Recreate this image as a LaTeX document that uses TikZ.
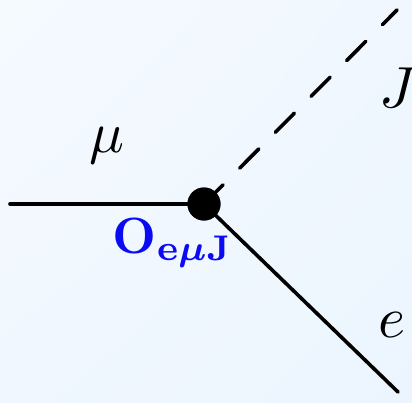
\documentclass[tikz,border=0pt]{standalone}
\usepackage{bm}
\usetikzlibrary{shadings}
\definecolor{bgA}{RGB}{245,250,255}
\definecolor{bgB}{RGB}{240,247,254}
\definecolor{bgC}{RGB}{236,245,254}
\definecolor{lblblue}{RGB}{10,10,245}
\tikzset{
  leg/.style={line width=3.6pt, line cap=round},
  scalar/.style={leg, dash pattern=on 27pt off 23.6pt},
  vtx/.style={circle, fill=black, inner sep=0pt, minimum size=33pt},
  lbl/.style={inner sep=0pt},
}
\newcommand{\bigtxt}[2]{\scalebox{#1}{#2}}
\begin{document}
\begin{tikzpicture}[x=1pt,y=-1pt]
\shade[upper left=bgA, upper right=bgB, lower left=bgB, lower right=bgC] (0,0) rectangle (412,402);
\useasboundingbox (0,0) rectangle (412,402);
\coordinate (mu) at (10,204);
\coordinate (J) at (397,10);
\coordinate (e) at (398,392);
\node[vtx] (v) at (204,204) {};
\draw[leg] (mu) -- (v.center);
\draw[leg] (v.center) -- (e);
\draw[scalar] (v.center) -- (J);
\node[vtx] at (204,204) {};
\node[lbl] (lmu) at (107,146) {\bigtxt{5.8}{$\mu$}};
\node[lbl] (lJ) at (398,88) {\bigtxt{5.8}{$J$}};
\node[lbl] (le) at (392,325) {\bigtxt{5.8}{$e$}};
\node[lbl, text=lblblue] (lO) at (173,243)
  {\bigtxt{5.1}{$\mathbf{O}_{\mathbf{e}\bm{\mu}\mathbf{J}}$}};
\end{tikzpicture}
\end{document}
